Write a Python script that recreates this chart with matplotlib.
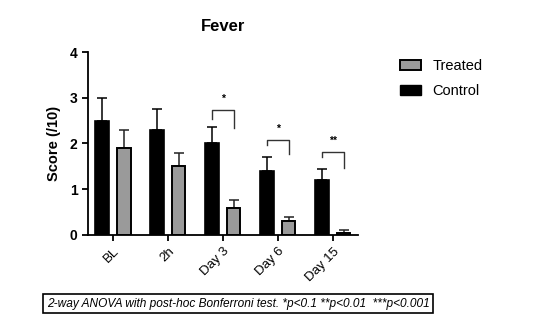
import numpy as np
import matplotlib.pyplot as plt
from matplotlib.patches import Patch

plt.rcParams['font.family'] = ['Liberation Sans', 'DejaVu Sans']

groups = ['BL', '2h', 'Day 3', 'Day 6', 'Day 15']
control = [2.5, 2.3, 2.0, 1.4, 1.2]
control_err = [0.5, 0.45, 0.35, 0.3, 0.25]
treated = [1.9, 1.5, 0.6, 0.3, 0.05]
treated_err = [0.4, 0.3, 0.17, 0.1, 0.05]
# significance brackets: group index, label, top, left leg bottom, right leg bottom, star height
sig = [(2, '*', 2.73, 2.54, 2.34, 2.97),
       (3, '*', 2.08, 1.97, 1.77, 2.32),
       (4, '**', 1.81, 1.70, 1.46, 2.05)]
note = "2-way ANOVA with post-hoc Bonferroni test. *p<0.1 **p<0.01  ***p<0.001"

fig = plt.figure(figsize=(5.53, 3.24), dpi=100)
ax = fig.add_axes([0.159, 0.2747, 0.488, 0.5648])

x = np.arange(len(groups))
w = 0.25
off = 0.195
ax.bar(x - off, control, w, color='black', edgecolor='black', linewidth=1.2, zorder=2)
ax.bar(x + off, treated, w, color='#9a9a9a', edgecolor='black', linewidth=1.4, zorder=2)
ax.errorbar(x - off, control, yerr=[np.zeros(5), control_err], fmt='none',
            ecolor='black', elinewidth=1.1, capsize=3.5, capthick=1.1, zorder=1)
ax.errorbar(x + off, treated, yerr=[np.zeros(5), treated_err], fmt='none',
            ecolor='#222222', elinewidth=1.1, capsize=3.5, capthick=1.1, zorder=1)

for i, lab, top, lb, rb, sy in sig:
    ax.plot([i - off, i - off, i + off, i + off], [lb, top, top, rb],
            color='#333333', lw=1.0)
    ax.text(i, sy, lab, ha='center', va='center', fontsize=7.5, fontweight='bold')

ax.set_xlim(-0.455, 4.455)
ax.set_ylim(0, 4)
ax.set_yticks([0, 1, 2, 3, 4])
ax.set_xticks(x)
ax.set_xticklabels(groups, rotation=45, ha='right', rotation_mode='anchor', fontsize=9.5)
for t in ax.get_yticklabels():
    t.set_fontweight('bold')
    t.set_fontsize(10)
ax.tick_params(axis='both', width=1.3, length=4, color='black')
ax.spines['top'].set_visible(False)
ax.spines['right'].set_visible(False)
ax.spines['left'].set_linewidth(1.3)
ax.spines['bottom'].set_linewidth(1.3)
ax.set_ylabel('Score (/10)', fontweight='bold', fontsize=10.5, labelpad=6)
ax.set_title('Fever', fontweight='bold', fontsize=12, pad=15)

handles = [Patch(facecolor='#9a9a9a', edgecolor='black', linewidth=1.4, label='Treated'),
           Patch(facecolor='black', edgecolor='black', label='Control')]
fig.legend(handles=handles, loc='upper left', bbox_to_anchor=(0.7, 0.858),
           frameon=False, fontsize=10.5, handlelength=1.4, handleheight=0.6,
           labelspacing=0.75)

fig.text(0.431, 0.062, note, ha='center', va='center', fontsize=8.6, style='italic',
         bbox=dict(boxstyle='square,pad=0.3', facecolor='white', edgecolor='black', linewidth=1.2))

fig.savefig('out.png', dpi=100)
